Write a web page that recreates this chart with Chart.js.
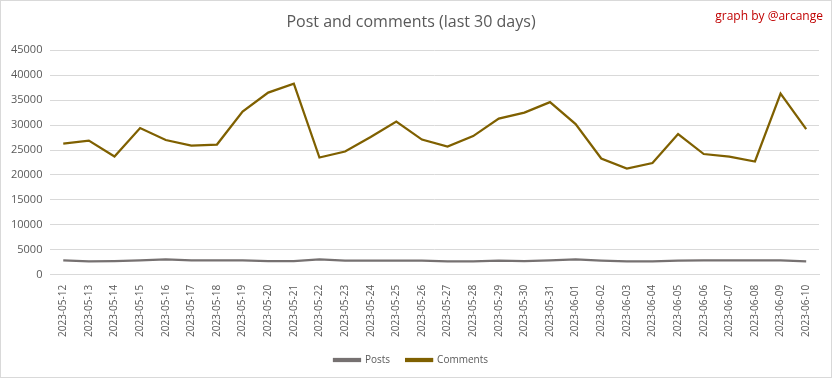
<!DOCTYPE html>
<html lang="en">

<head>
    <meta charset="UTF-8">
    <title>Post and comments (last 30 days)</title>
    <style>
        body { margin: 0; background: #fff; }
        #wrap { position: relative; width: 830px; height: 376px; border: 1px solid #d9d9d9; }
        #credit { position: absolute; top: 6px; right: 8px; color: #c00000; font: 12px "Open Sans", sans-serif; }
    </style>
</head>

<body>
    <div id="wrap">
        <canvas id="ctx"></canvas>
        <div id="credit">graph by @arcange</div>
    </div>

    <script src="https://cdn.jsdelivr.net/npm/chart.js"></script>
    <script>
        const ctx = document.getElementById('ctx').getContext('2d');

        // Dates (x axis)
        let labels = ['2023-05-12', '2023-05-13', '2023-05-14', '2023-05-15', '2023-05-16', '2023-05-17',
            '2023-05-18', '2023-05-19', '2023-05-20', '2023-05-21', '2023-05-22', '2023-05-23',
            '2023-05-24', '2023-05-25', '2023-05-26', '2023-05-27', '2023-05-28', '2023-05-29',
            '2023-05-30', '2023-05-31', '2023-06-01', '2023-06-02', '2023-06-03', '2023-06-04',
            '2023-06-05', '2023-06-06', '2023-06-07', '2023-06-08', '2023-06-09', '2023-06-10'];

        // Series values
        let posts = [2900, 2700, 2750, 2900, 3100, 2900, 2900, 2900, 2750, 2750,
            3100, 2850, 2850, 2850, 2850, 2700, 2700, 2850, 2750, 2900,
            3100, 2850, 2700, 2700, 2850, 2900, 2900, 2900, 2900, 2700];
        let comments = [26300, 26900, 23700, 29400, 27000, 25900, 26100, 32700, 36500, 38300,
            23500, 24700, 27600, 30700, 27100, 25700, 27800, 31300, 32500, 34600,
            30200, 23300, 21300, 22400, 28200, 24200, 23700, 22700, 36300, 29200];

        // Y axis ticks
        let yMax = 45000;
        let yStep = 5000;

        Chart.defaults.font.family = '"Open Sans", sans-serif';
        Chart.defaults.color = '#595959';

        let data = {
            labels: labels,
            datasets: [
                {
                    label: 'Posts',
                    data: posts,
                    borderColor: '#767171',
                    backgroundColor: '#767171',
                    borderWidth: 2.25,
                    pointRadius: 0,
                    tension: 0
                },
                {
                    label: 'Comments',
                    data: comments,
                    borderColor: '#7f6000',
                    backgroundColor: '#7f6000',
                    borderWidth: 2.25,
                    pointRadius: 0,
                    tension: 0
                }
            ]
        };

        let options = {
            responsive: true,
            maintainAspectRatio: false,
            animation: false,
            layout: { padding: { left: 2, right: 12, top: 0, bottom: 2 } },
            scales: {
                x: {
                    offset: true,
                    grid: { display: false },
                    border: { color: '#d9d9d9' },
                    ticks: { autoSkip: false, minRotation: 90, maxRotation: 90, padding: 2, font: { size: 10 } }
                },
                y: {
                    min: 0,
                    max: yMax,
                    border: { display: false },
                    grid: { color: '#d9d9d9', drawTicks: false },
                    ticks: {
                        stepSize: yStep,
                        padding: 8,
                        font: { size: 11 },
                        callback: v => String(v)
                    }
                }
            },
            plugins: {
                title: {
                    display: true,
                    text: 'Post and comments (last 30 days)',
                    color: '#595959',
                    font: { size: 16, weight: 'normal' },
                    padding: { top: 12, bottom: 18 }
                },
                legend: {
                    position: 'bottom',
                    labels: { boxWidth: 26, boxHeight: 2, font: { size: 10 }, padding: 16 }
                },
                tooltip: { enabled: false }
            }
        };

        new Chart(ctx, { type: 'line', data: data, options: options });
    </script>
</body>

</html>
